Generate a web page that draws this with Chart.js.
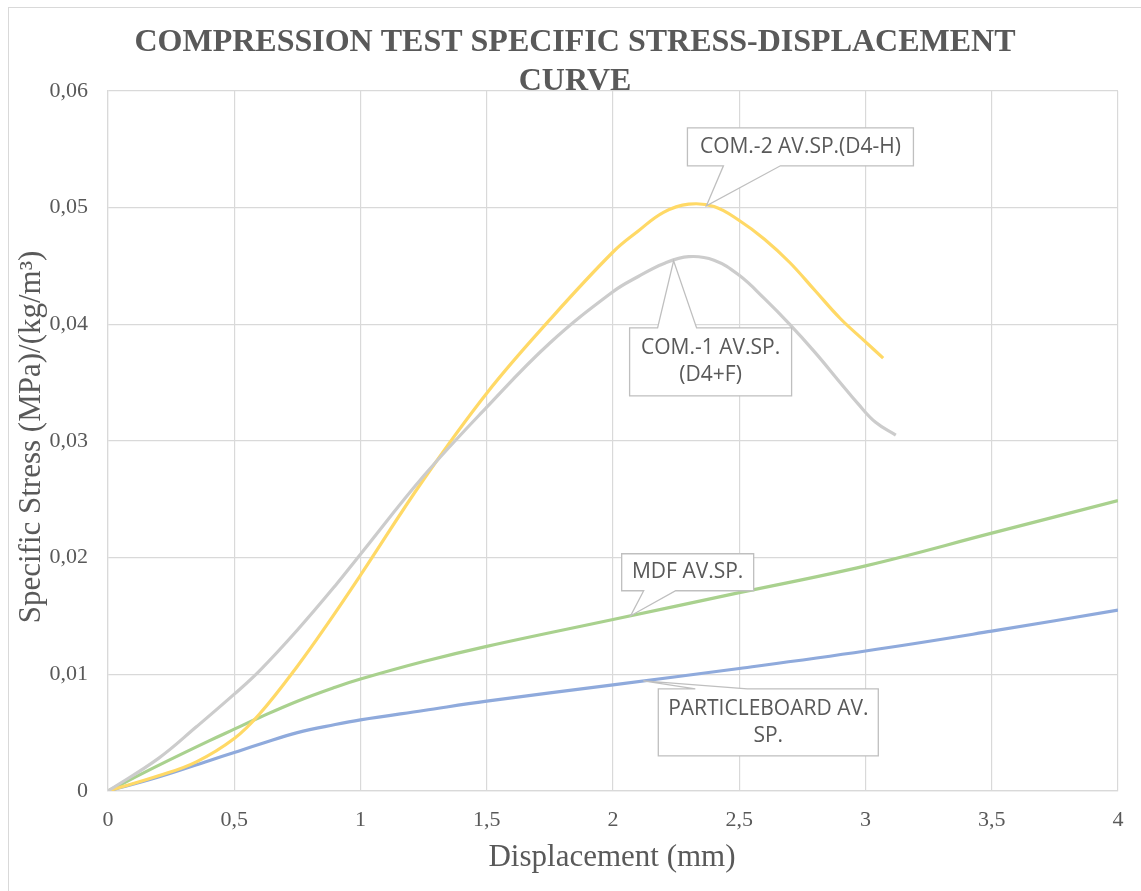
<!DOCTYPE html>
<html>
<head>
<meta charset="utf-8">
<title>Compression test specific stress-displacement curve</title>
<script src="https://cdn.jsdelivr.net/npm/chart.js@4.4.1/dist/chart.umd.min.js"></script>
<style>
  html, body { margin: 0; padding: 0; background: #fff; }
  #wrap { width: 1141px; height: 891px; }
</style>
</head>
<body>
<div id="wrap"><canvas id="chart" width="1141" height="891"></canvas></div>
<script>
// --- data (displacement in mm, specific stress) ---
const com1X = [0, 0.2, 0.35, 0.5, 0.6, 0.75, 0.9, 1, 1.25, 1.5, 1.75, 2, 2.1, 2.2, 2.3, 2.4, 2.5, 2.6, 2.7, 2.8, 2.9, 2.97, 3.04, 3.12];
const com1Y = [0, 0.0028, 0.0055, 0.0083, 0.0103, 0.0138, 0.0176, 0.0203, 0.0270, 0.0329, 0.0384, 0.0428, 0.0441, 0.0452, 0.0458, 0.0455, 0.0442, 0.0422, 0.0400, 0.0376, 0.0350, 0.0332, 0.0316, 0.0305];

const com2X = [0, 0.2, 0.35, 0.5, 0.6, 0.75, 0.875, 1, 1.25, 1.5, 1.75, 2, 2.1, 2.2, 2.3, 2.4, 2.5, 2.6, 2.7, 2.8, 2.9, 3.0, 3.07];
const com2Y = [0, 0.0013, 0.0025, 0.0045, 0.0066, 0.0107, 0.0145, 0.0185, 0.0267, 0.0341, 0.0404, 0.0462, 0.0480, 0.0496, 0.0503, 0.0501, 0.0489, 0.0473, 0.0453, 0.0429, 0.0405, 0.0385, 0.0371];

const mdfX = [0, 0.2, 0.4, 0.5, 0.6, 0.75, 0.9, 1, 1.25, 1.5, 2, 2.5, 3, 3.5, 4];
const mdfY = [0, 0.0022, 0.0043, 0.0053, 0.0063, 0.0077, 0.0089, 0.0096, 0.0111, 0.0124, 0.0147, 0.0170, 0.0193, 0.0221, 0.0249];

const pbX = [0, 0.2, 0.4, 0.5, 0.6, 0.75, 0.9, 1, 1.25, 1.5, 2, 2.5, 3, 3.5, 4];
const pbY = [0, 0.0012, 0.0026, 0.0033, 0.0040, 0.0050, 0.0057, 0.0061, 0.0069, 0.0077, 0.0091, 0.0105, 0.0120, 0.0137, 0.0155];

const seriesNames = ['COM.-1 AV.SP.(D4+F)', 'COM.-2 AV.SP.(D4-H)', 'MDF AV.SP.', 'PARTICLEBOARD AV. SP.'];
const seriesColors = ['#cccccc', '#ffd966', '#a9d18e', '#8faadc'];

const chartTitle = ['COMPRESSION TEST SPECIFIC STRESS-DISPLACEMENT', 'CURVE'];
const xTitle = 'Displacement (mm)';
const yTitle = 'Specific Stress (MPa)/(kg/m³)';

// callouts: which series, x where the pointer touches it, then box placement relative to that point
const callouts = [
  { ds: 1, x: 2.37, lines: ['COM.-2 AV.SP.(D4-H)'], dx: -19, dy: -78, w: 226, h: 38, side: 'bottom', b1: 17, b2: 74 },
  { ds: 0, x: 2.24, lines: ['COM.-1 AV.SP.', '(D4+F)'], dx: -44, dy: 67, w: 162, h: 68, side: 'top', b1: -16, b2: 23 },
  { ds: 2, x: 2.07, lines: ['MDF AV.SP.'], dx: -9, dy: -62, w: 132, h: 37, side: 'bottom', b1: 13, b2: 45 },
  { ds: 3, x: 2.12, lines: ['PARTICLEBOARD AV.', 'SP.'], dx: 15, dy: 8, w: 220, h: 67, side: 'top', b1: 52, b2: 104 }
];

const TEXT = '#595959';
const GRID = '#d9d9d9';
const SERIF = '"Liberation Serif", "Times New Roman", serif';

function toPoints(xs, ys) {
  return xs.map((x, i) => ({ x: x, y: ys[i] }));
}

function interp(xs, ys, x) {
  for (let i = 1; i < xs.length; i++) {
    if (x <= xs[i]) {
      const t = (x - xs[i - 1]) / (xs[i] - xs[i - 1]);
      return ys[i - 1] + t * (ys[i] - ys[i - 1]);
    }
  }
  return ys[ys.length - 1];
}

const allX = [com1X, com2X, mdfX, pbX];
const allY = [com1Y, com2Y, mdfY, pbY];

function comma(v) {
  return (Math.round(v * 100) / 100).toString().replace('.', ',');
}

// frame, titles and callouts
const decorPlugin = {
  id: 'decor',
  beforeDraw(chart) {
    const ctx = chart.ctx;
    ctx.save();
    ctx.fillStyle = '#fff';
    ctx.fillRect(0, 0, chart.width, chart.height);
    ctx.strokeStyle = GRID;
    ctx.lineWidth = 1;
    ctx.strokeRect(8.5, 7.5, 1300, 1000);
    ctx.restore();
  },
  afterDraw(chart) {
    const ctx = chart.ctx;
    const xs = chart.scales.x, ys = chart.scales.y;
    ctx.save();

    // chart title
    ctx.fillStyle = TEXT;
    ctx.textAlign = 'center';
    ctx.textBaseline = 'alphabetic';
    ctx.font = 'bold 32px ' + SERIF;
    ctx.fillText(chartTitle[0], 575, 51);
    ctx.fillText(chartTitle[1], 575, 90);

    // axis titles
    ctx.font = '31px ' + SERIF;
    ctx.fillText(xTitle, 612, 866);
    ctx.save();
    ctx.translate(32, 437);
    ctx.rotate(-Math.PI / 2);
    ctx.textBaseline = 'middle';
    ctx.fillText(yTitle, 0, 0);
    ctx.restore();

    // callouts
    callouts.forEach(c => {
      const tx = xs.getPixelForValue(c.x);
      const ty = ys.getPixelForValue(interp(allX[c.ds], allY[c.ds], c.x));
      const L = tx + c.dx, T = ty + c.dy, R = L + c.w, B = T + c.h;
      ctx.beginPath();
      if (c.side === 'bottom') {
        ctx.moveTo(L, T); ctx.lineTo(R, T); ctx.lineTo(R, B);
        ctx.lineTo(tx + c.b2, B); ctx.lineTo(tx, ty); ctx.lineTo(tx + c.b1, B);
        ctx.lineTo(L, B);
      } else {
        ctx.moveTo(L, T); ctx.lineTo(tx + c.b1, T); ctx.lineTo(tx, ty);
        ctx.lineTo(tx + c.b2, T); ctx.lineTo(R, T); ctx.lineTo(R, B);
        ctx.lineTo(L, B);
      }
      ctx.closePath();
      ctx.fillStyle = '#fff';
      ctx.fill();
      ctx.strokeStyle = '#bfbfbf';
      ctx.lineWidth = 1.3;
      ctx.stroke();

      ctx.fillStyle = TEXT;
      ctx.font = '21px "Open Sans", sans-serif';
      ctx.textAlign = 'center';
      ctx.textBaseline = 'middle';
      const lh = 27;
      const cy = (T + B) / 2 - (c.lines.length - 1) * lh / 2;
      c.lines.forEach((s, i) => ctx.fillText(s, (L + R) / 2, cy + i * lh));
    });
    ctx.restore();
  }
};

const datasets = allX.map((xs, i) => ({
  label: seriesNames[i],
  data: toPoints(xs, allY[i]),
  showLine: true,
  borderColor: seriesColors[i],
  backgroundColor: seriesColors[i],
  borderWidth: 3.2,
  pointRadius: 0,
  tension: 0.4,
  fill: false
}));

new Chart(document.getElementById('chart'), {
  type: 'scatter',
  data: { datasets: datasets },
  options: {
    responsive: false,
    animation: false,
    devicePixelRatio: 1,
    layout: { padding: { top: 91, right: 23, left: 0, bottom: 0 } },
    plugins: {
      legend: { display: false },
      tooltip: { enabled: false },
      title: { display: false }
    },
    scales: {
      x: {
        type: 'linear',
        min: 0, max: 4,
        afterFit: s => { s.height = 100; },
        ticks: {
          stepSize: 0.5,
          color: TEXT,
          padding: 16,
          font: { family: SERIF, size: 22 },
          callback: v => comma(v)
        },
        grid: { color: GRID, lineWidth: 1.2, drawTicks: false },
        border: { color: GRID, width: 1.2 }
      },
      y: {
        min: 0, max: 0.06,
        afterFit: s => { s.width = 108; },
        ticks: {
          stepSize: 0.01,
          color: TEXT,
          padding: 20,
          font: { family: SERIF, size: 22 },
          callback: v => comma(v)
        },
        grid: { color: GRID, lineWidth: 1.2, drawTicks: false },
        border: { color: GRID, width: 1.2 }
      }
    }
  },
  plugins: [decorPlugin]
});
</script>
</body>
</html>
